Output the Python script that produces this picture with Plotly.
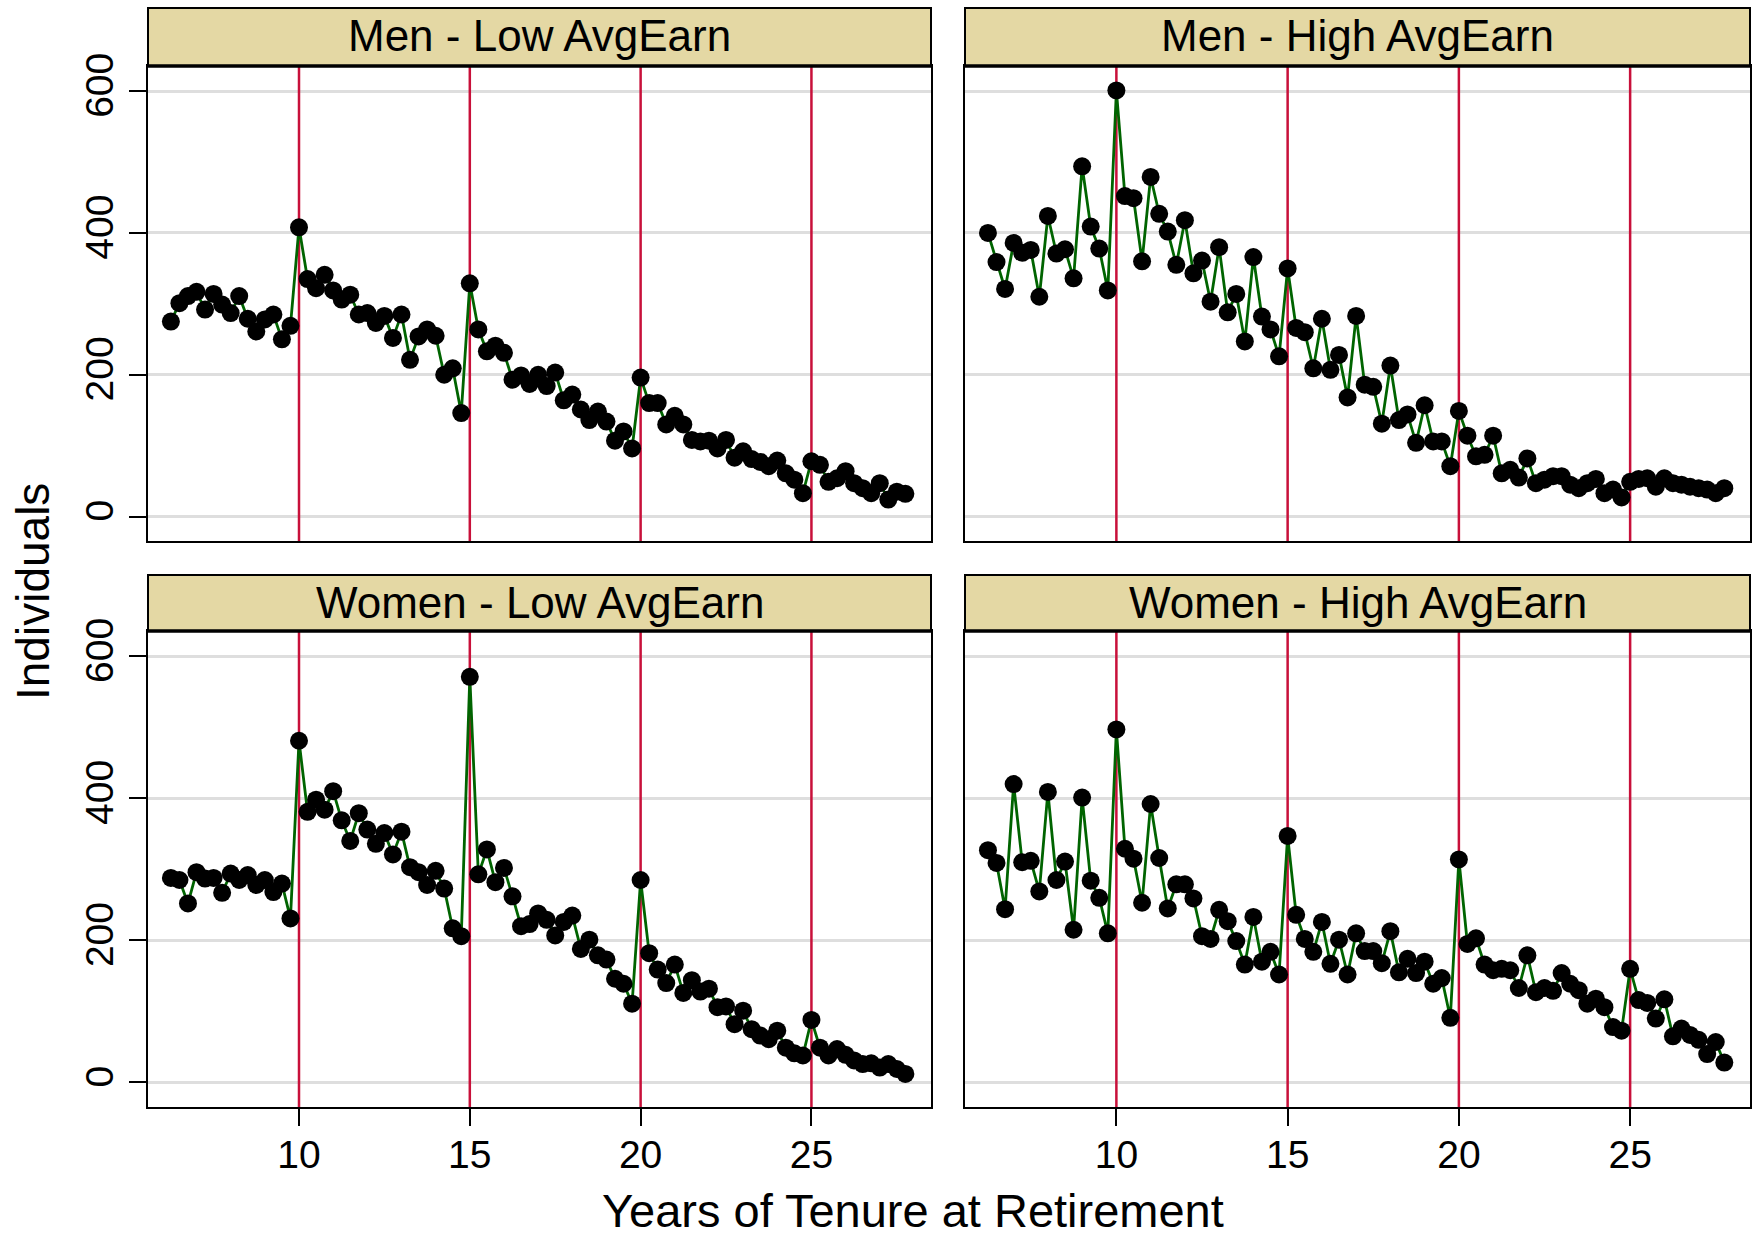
import plotly.graph_objects as go

# Tenure at retirement, in quarter-year steps
tenure = [6.25 + 0.25 * i for i in range(87)]

men_low = [
    275, 301, 311, 317, 292, 314, 299, 287, 311, 279, 261, 278, 285, 250, 269,
    408, 335, 322, 341, 319, 306, 313, 285, 287, 273, 283, 252, 285, 221, 254,
    264, 255, 200, 209, 146,
    329, 264, 233, 241, 231, 193, 199, 187, 200, 184, 203, 164, 172, 151, 136,
    148, 134, 107, 120, 96,
    196, 160, 160, 130, 142, 130, 108, 106, 107, 96, 108, 83, 92, 81, 77,
    71, 79, 61, 52, 33,
    78, 73, 49, 54, 64, 47, 40, 33, 47, 24, 35, 32,
]

men_high = [
    400, 359, 321, 386, 372, 376, 310, 424, 371, 377, 336, 494, 409, 378, 319,
    601, 452, 449, 360, 479, 427, 402, 355, 418, 343, 361, 303, 380, 288, 314,
    247, 366, 282, 264, 226,
    350, 266, 260, 209, 279, 207, 228, 168, 283, 186, 183, 131, 213, 136, 144,
    104, 157, 106, 106, 71,
    149, 114, 85, 87, 114, 61, 66, 55, 82, 47, 52, 57, 57, 45, 40,
    47, 53, 33, 38, 27,
    49, 53, 54, 42, 54, 47, 45, 42, 40, 38, 33, 40,
]

women_low = [
    288, 285, 252, 296, 287, 288, 267, 294, 285, 292, 278, 285, 268, 280, 231,
    481, 381, 398, 384, 410, 369, 340, 379, 356, 336, 351, 321, 353, 303, 296,
    278, 298, 273, 217, 206,
    571, 293, 328, 282, 302, 262, 220, 223, 238, 229, 207, 226, 235, 188, 201,
    179, 173, 146, 139, 111,
    285, 182, 159, 140, 166, 126, 144, 128, 132, 106, 107, 82, 101, 75, 66,
    61, 73, 49, 41, 38,
    88, 49, 38, 47, 39, 31, 26, 27, 21, 26, 19, 12,
]

women_high = [
    327, 309, 244, 420, 310, 312, 269, 409, 285, 311, 215, 401, 284, 260, 210,
    497, 329, 315, 253, 392, 316, 245, 279, 279, 259, 206, 202, 243, 227, 199,
    166, 233, 170, 184, 152,
    347, 236, 202, 184, 226, 167, 201, 152, 210, 185, 185, 168, 213, 155, 174,
    154, 170, 139, 147, 91,
    314, 195, 203, 166, 158, 160, 158, 133, 179, 127, 133, 129, 154, 139, 130,
    111, 118, 106, 78, 73,
    160, 116, 112, 90, 117, 65, 76, 67, 60, 40, 57, 28,
]

panel_titles = [
    "Men - Low AvgEarn", "Men - High AvgEarn",
    "Women - Low AvgEarn", "Women - High AvgEarn",
]
panel_series = [men_low, men_high, women_low, women_high]

reference_years = [10, 15, 20, 25]
x_ticks = [10, 15, 20, 25]
y_ticks = [0, 200, 400, 600]

W, H = 1756, 1239
FONT = "Liberation Sans, Arial, Helvetica, sans-serif"

# Pixel layout of the 2x2 lattice
col_px = [(148, 931), (965, 1750)]
row_px = [(66, 541), (631, 1107)]     # plot areas (top, bottom)
strip_px = [(8, 66), (575, 631)]      # strip headers (top, bottom)

def fx(px):
    return px / W

def fy(py):
    return 1 - py / H

fig = go.Figure()

x_range = [5.58, 28.5]
y_range = [-34.5, 635.5]

for k, (title, values) in enumerate(zip(panel_titles, panel_series)):
    r, c = divmod(k, 2)
    sfx = "" if k == 0 else str(k + 1)
    xa, ya = "x" + sfx, "y" + sfx

    # Reference tenure thresholds, spanning the full panel height
    ref_x, ref_y = [], []
    for yr in reference_years:
        ref_x += [yr, yr, None]
        ref_y += [y_range[0], y_range[1], None]
    fig.add_trace(go.Scatter(
        x=ref_x, y=ref_y, xaxis=xa, yaxis=ya, mode="lines",
        line=dict(color="#C8103A", width=2.5),
        showlegend=False, hoverinfo="skip",
    ))

    fig.add_trace(go.Scatter(
        x=tenure, y=values, xaxis=xa, yaxis=ya,
        mode="lines+markers",
        line=dict(color="#006400", width=2.8),
        marker=dict(color="black", size=18, line=dict(width=0)),
        showlegend=False, hoverinfo="x+y",
    ))

    bottom_row = r == 1
    left_col = c == 0
    fig.layout["xaxis" + sfx] = dict(
        domain=[fx(col_px[c][0]), fx(col_px[c][1])],
        anchor=ya, range=x_range, automargin=False,
        showgrid=False, zeroline=False,
        showline=True, mirror=True, linecolor="black", linewidth=2,
        tickvals=x_ticks,
        ticks="outside" if bottom_row else "",
        ticklen=17, tickwidth=2, tickcolor="black",
        showticklabels=bottom_row, ticklabelstandoff=-5,
        tickfont=dict(size=39, color="black", family=FONT),
    )
    fig.layout["yaxis" + sfx] = dict(
        domain=[fy(row_px[r][1]), fy(row_px[r][0])],
        anchor=xa, range=y_range, automargin=False,
        showgrid=True, gridcolor="#DEDEDE", gridwidth=2.5,
        zeroline=False,
        showline=True, mirror=True, linecolor="black", linewidth=2,
        tickvals=y_ticks,
        ticks="outside" if left_col else "",
        ticklen=17, tickwidth=2, tickcolor="black",
        showticklabels=left_col, tickangle=-90,
        tickfont=dict(size=39, color="black", family=FONT),
    )

    # Strip header
    fig.add_shape(
        type="rect", xref="paper", yref="paper",
        x0=fx(col_px[c][0]), x1=fx(col_px[c][1]),
        y0=fy(strip_px[r][1]), y1=fy(strip_px[r][0]),
        fillcolor="#E4D8A4", line=dict(color="black", width=2), layer="above",
    )
    fig.add_shape(
        type="line", xref="paper", yref="paper",
        x0=fx(col_px[c][0]), x1=fx(col_px[c][1]),
        y0=fy(strip_px[r][1]), y1=fy(strip_px[r][1]),
        line=dict(color="black", width=3.5), layer="above",
    )
    fig.add_annotation(
        x=fx((col_px[c][0] + col_px[c][1]) / 2),
        y=fy((strip_px[r][0] + strip_px[r][1]) / 2 - 1),
        xref="paper", yref="paper", text=title, showarrow=False,
        xanchor="center", yanchor="middle",
        font=dict(size=44, color="black", family=FONT),
    )

fig.add_annotation(
    x=fx(33), y=fy(592), xref="paper", yref="paper",
    text="Individuals", textangle=-90, showarrow=False,
    xanchor="center", yanchor="middle",
    font=dict(size=46, color="black", family=FONT),
)
fig.add_annotation(
    x=fx(913), y=0, xref="paper", yref="paper",
    text="Years of Tenure at Retirement", showarrow=False,
    xanchor="center", yanchor="bottom",
    font=dict(size=47, color="black", family=FONT),
)

fig.update_layout(
    width=W, height=H,
    margin=dict(l=0, r=0, t=0, b=0, pad=0, autoexpand=False),
    paper_bgcolor="white", plot_bgcolor="white",
    font=dict(family=FONT, color="black"),
    showlegend=False,
)

fig.write_html("out.html")
